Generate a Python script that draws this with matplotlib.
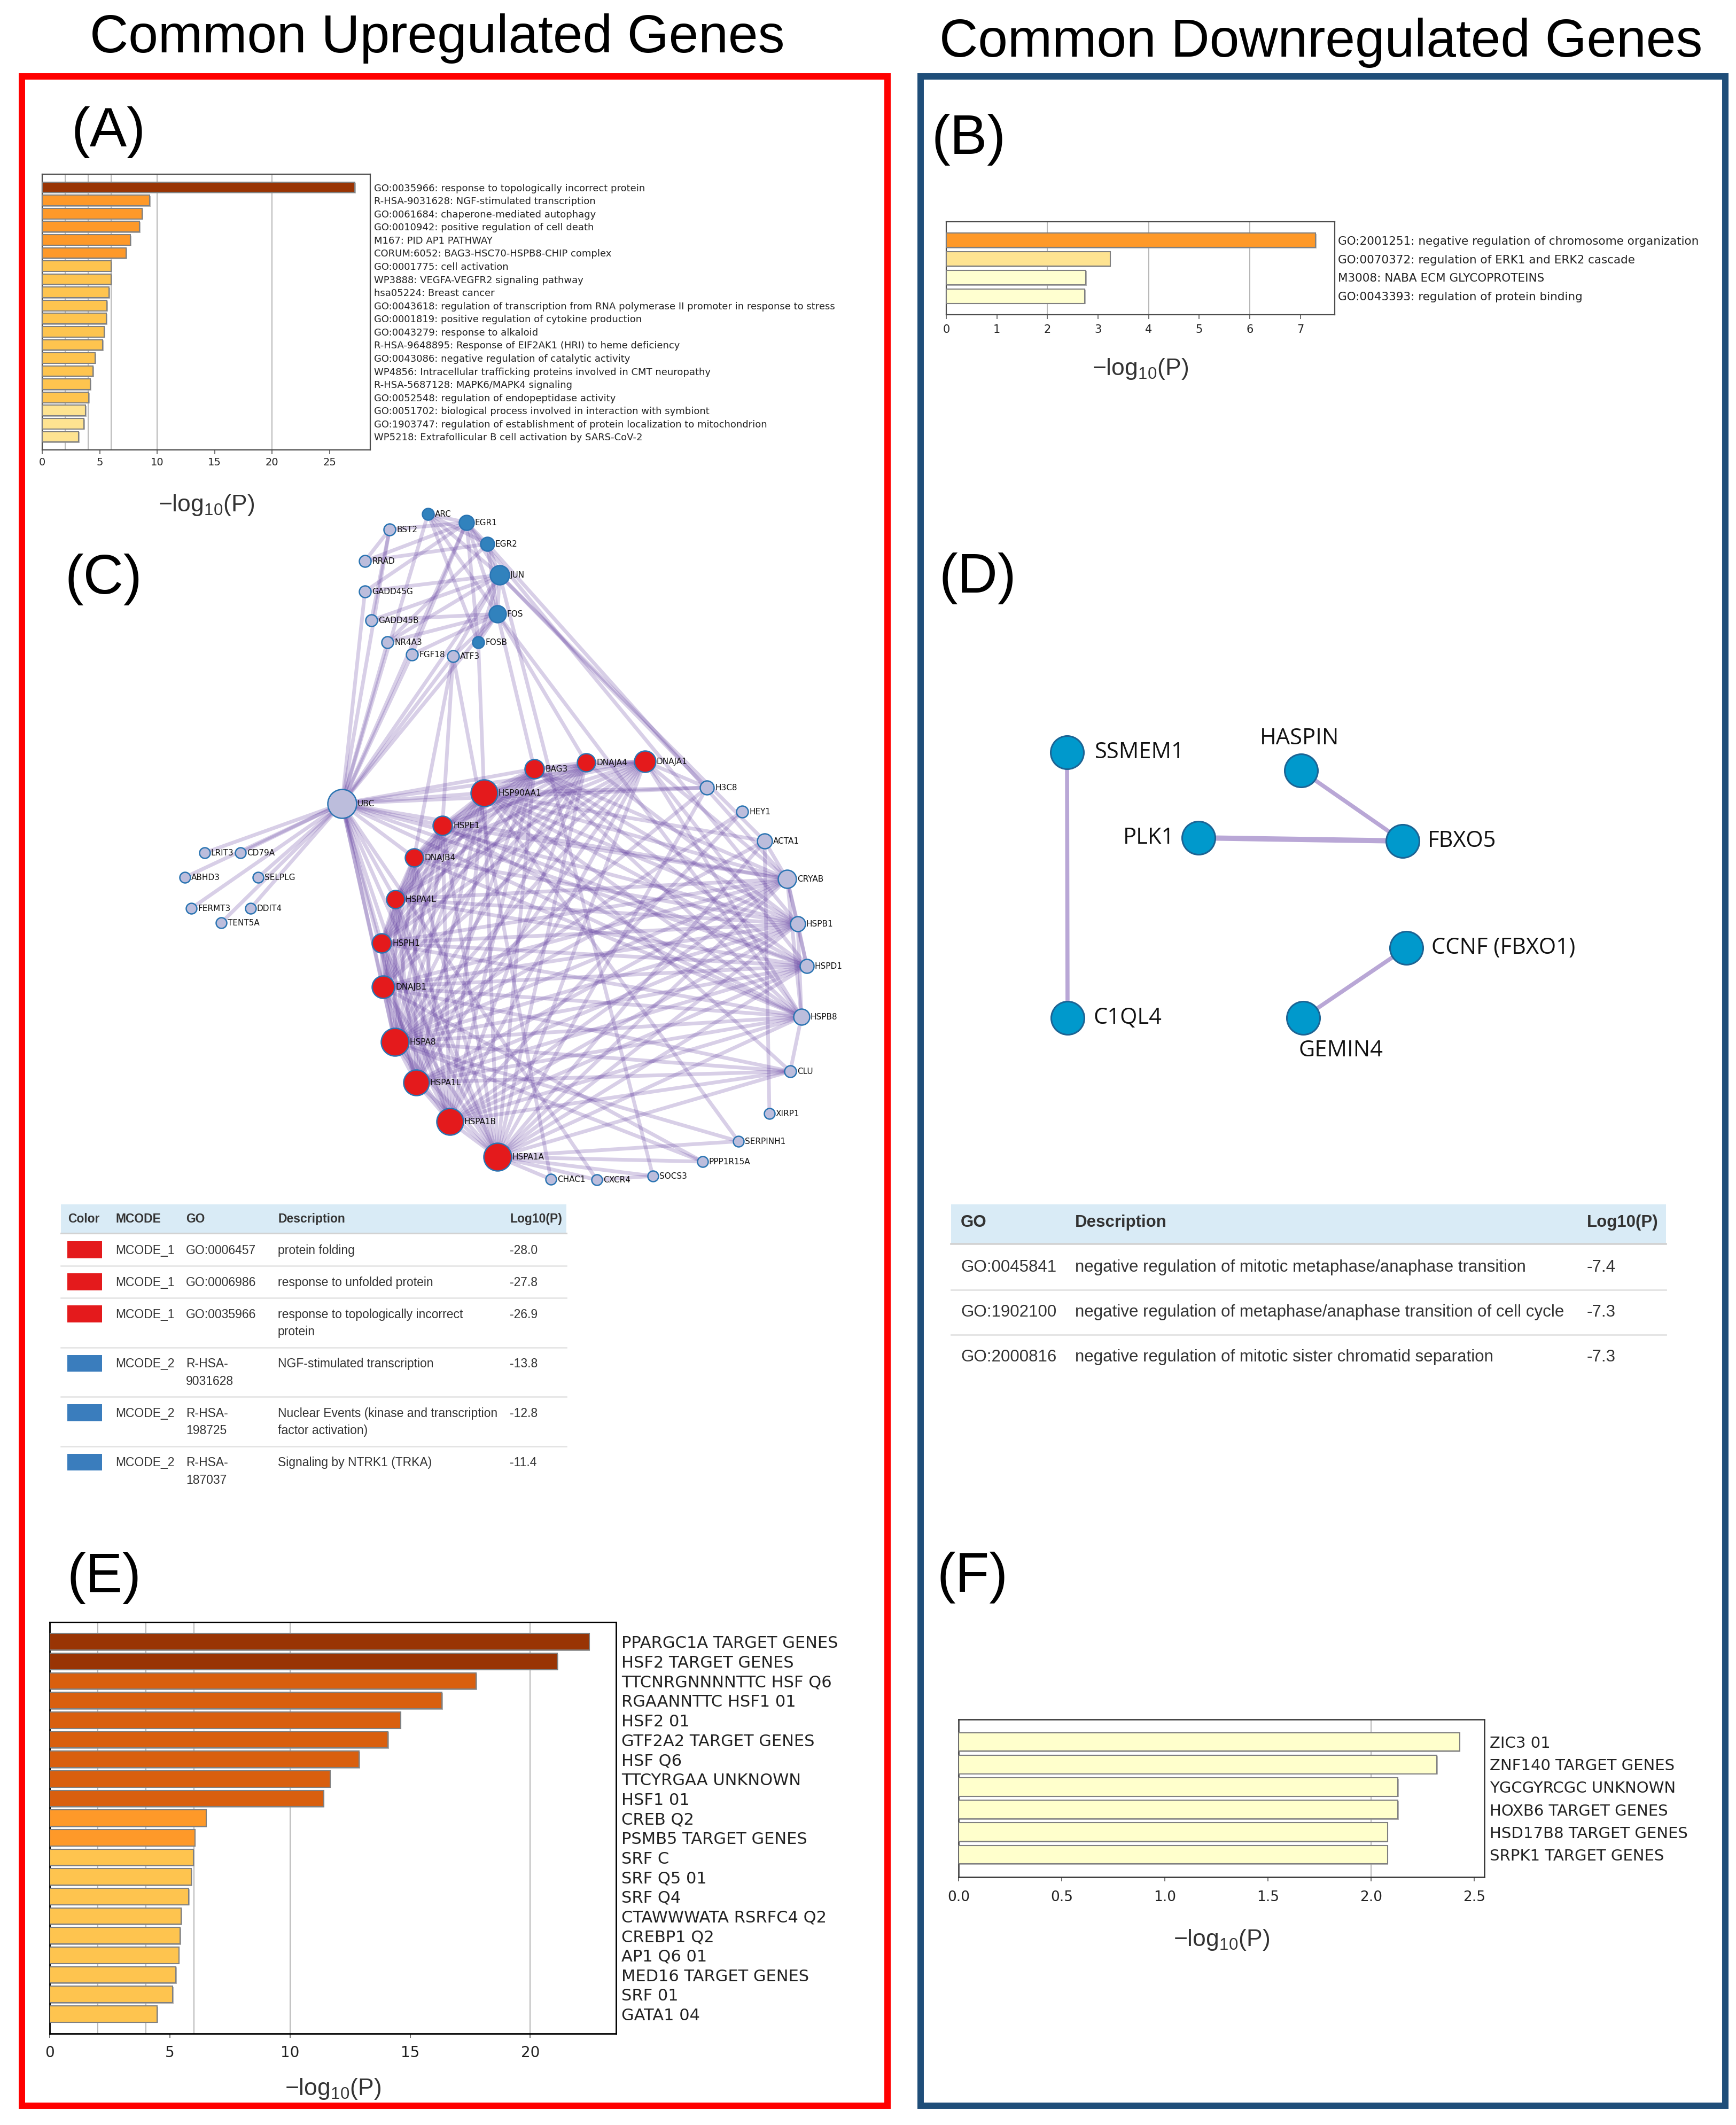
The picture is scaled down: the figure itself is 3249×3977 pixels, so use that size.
import numpy as np
import matplotlib
matplotlib.use('Agg')
import matplotlib.pyplot as plt
from matplotlib.patches import Rectangle
import matplotlib.patheffects as pe

plt.rcParams['mathtext.fontset'] = 'custom'
plt.rcParams['mathtext.rm'] = 'Liberation Sans'
plt.rcParams['mathtext.it'] = 'Liberation Sans:italic'

W, H = 3249, 3977

# ---------------- data ----------------
# (A) enrichment, common upregulated genes
a_terms = ['GO:0035966: response to topologically incorrect protein',
           'R-HSA-9031628: NGF-stimulated transcription',
           'GO:0061684: chaperone-mediated autophagy',
           'GO:0010942: positive regulation of cell death',
           'M167: PID AP1 PATHWAY',
           'CORUM:6052: BAG3-HSC70-HSPB8-CHIP complex',
           'GO:0001775: cell activation',
           'WP3888: VEGFA-VEGFR2 signaling pathway',
           'hsa05224: Breast cancer',
           'GO:0043618: regulation of transcription from RNA polymerase II promoter in response to stress',
           'GO:0001819: positive regulation of cytokine production',
           'GO:0043279: response to alkaloid',
           'R-HSA-9648895: Response of EIF2AK1 (HRI) to heme deficiency',
           'GO:0043086: negative regulation of catalytic activity',
           'WP4856: Intracellular trafficking proteins involved in CMT neuropathy',
           'R-HSA-5687128: MAPK6/MAPK4 signaling',
           'GO:0052548: regulation of endopeptidase activity',
           'GO:0051702: biological process involved in interaction with symbiont',
           'GO:1903747: regulation of establishment of protein localization to mitochondrion',
           'WP5218: Extrafollicular B cell activation by SARS-CoV-2']
a_vals = [27.2, 9.35, 8.7, 8.47, 7.67, 7.3, 6.0, 6.0, 5.81, 5.63,
          5.58, 5.4, 5.26, 4.6, 4.42, 4.19, 4.05, 3.77, 3.63, 3.16]
a_colors = ['#993404'] + ['#fe9929'] * 5 + ['#fec44f'] * 11 + ['#fee391'] * 3

# (B) enrichment, common downregulated genes
b_terms = ['GO:2001251: negative regulation of chromosome organization',
           'GO:0070372: regulation of ERK1 and ERK2 cascade',
           'M3008: NABA ECM GLYCOPROTEINS',
           'GO:0043393: regulation of protein binding']
b_vals = [7.30, 3.24, 2.76, 2.74]
b_colors = ['#fe9929', '#fee391', '#ffffd0', '#ffffd0']

# (E) transcription factor targets, upregulated
e_terms = ['PPARGC1A TARGET GENES', 'HSF2 TARGET GENES', 'TTCNRGNNNNTTC HSF Q6',
           'RGAANNTTC HSF1 01', 'HSF2 01', 'GTF2A2 TARGET GENES', 'HSF Q6',
           'TTCYRGAA UNKNOWN', 'HSF1 01', 'CREB Q2', 'PSMB5 TARGET GENES', 'SRF C',
           'SRF Q5 01', 'SRF Q4', 'CTAWWWATA RSRFC4 Q2', 'CREBP1 Q2', 'AP1 Q6 01',
           'MED16 TARGET GENES', 'SRF 01', 'GATA1 04']
e_vals = [22.45, 21.13, 17.75, 16.32, 14.60, 14.08, 12.88, 11.67, 11.40, 6.51,
          6.04, 5.99, 5.90, 5.79, 5.48, 5.43, 5.37, 5.25, 5.12, 4.47]
e_colors = ['#993404'] * 2 + ['#d95f0e'] * 7 + ['#fe9929'] * 2 + ['#fec44f'] * 9

# (F) transcription factor targets, downregulated
f_terms = ['ZIC3 01', 'ZNF140 TARGET GENES', 'YGCGYRCGC UNKNOWN',
           'HOXB6 TARGET GENES', 'HSD17B8 TARGET GENES', 'SRPK1 TARGET GENES']
f_vals = [2.43, 2.32, 2.13, 2.13, 2.08, 2.08]
f_colors = ['#ffffcc'] * 6

# (C) PPI network: name, layout x, layout y, node radius, group
c_nodes = [
    ('ARC', 501, 62, 11, 'b'), ('EGR1', 573, 78, 14, 'b'), ('BST2', 429, 91, 11, 'l'),
    ('EGR2', 612, 118, 13, 'b'), ('RRAD', 383, 150, 11, 'l'), ('JUN', 635, 176, 18, 'b'),
    ('GADD45G', 383, 207, 11, 'l'), ('FOS', 631, 249, 16, 'b'), ('GADD45B', 395, 261, 11, 'l'),
    ('FOSB', 595, 302, 11, 'b'), ('NR4A3', 425, 302, 11, 'l'), ('FGF18', 471, 325, 11, 'l'),
    ('ATF3', 548, 328, 11, 'l'), ('BAG3', 700, 539, 18, 'r'), ('DNAJA4', 797, 527, 17, 'r'),
    ('DNAJA1', 907, 525, 20, 'r'), ('H3C8', 1023, 574, 13, 'l'), ('HSP90AA1', 606, 584, 25, 'r'),
    ('UBC', 340, 604, 27, 'l'), ('HEY1', 1089, 619, 11, 'l'), ('HSPE1', 528, 645, 18, 'r'),
    ('ACTA1', 1131, 674, 14, 'l'), ('LRIT3', 83, 696, 10, 'l'), ('CD79A', 150, 696, 10, 'l'),
    ('DNAJB4', 475, 705, 17, 'r'), ('ABHD3', 46, 742, 10, 'l'), ('SELPLG', 183, 742, 10, 'l'),
    ('CRYAB', 1173, 745, 17, 'l'), ('HSPA4L', 440, 783, 17, 'r'), ('FERMT3', 58, 800, 10, 'l'),
    ('DDIT4', 169, 800, 10, 'l'), ('TENT5A', 114, 827, 10, 'l'), ('HSPB1', 1193, 829, 14, 'l'),
    ('HSPH1', 414, 865, 18, 'r'), ('HSPD1', 1210, 908, 13, 'l'), ('DNAJB1', 417, 947, 21, 'r'),
    ('HSPB8', 1200, 1003, 15, 'l'), ('HSPA8', 439, 1050, 26, 'r'), ('CLU', 1179, 1105, 11, 'l'),
    ('HSPA1L', 479, 1126, 24, 'r'), ('XIRP1', 1140, 1184, 10, 'l'), ('HSPA1B', 542, 1199, 25, 'r'),
    ('SERPINH1', 1082, 1236, 10, 'l'), ('HSPA1A', 631, 1265, 26, 'r'), ('PPP1R15A', 1015, 1274, 10, 'l'),
    ('SOCS3', 922, 1301, 10, 'l'), ('CHAC1', 731, 1307, 10, 'l'), ('CXCR4', 817, 1308, 10, 'l'),
]
# adjacency: first name on each line links to every following name
c_links = """
ARC EGR1 EGR2 JUN FOS FOSB UBC
EGR1 BST2 EGR2 JUN FOS FOSB GADD45G FGF18 RRAD HSPB1 UBC
EGR2 RRAD JUN FOS NR4A3 CRYAB
JUN FOS FOSB ATF3 GADD45G GADD45B NR4A3 H3C8 ACTA1 UBC SOCS3
FOS FOSB ATF3 NR4A3 GADD45B FGF18 BAG3 DNAJA4 UBC HSPB8
FOSB HSP90AA1
BST2 GADD45B RRAD UBC
ATF3 HSPE1 DNAJB4 UBC CHAC1
GADD45G UBC
NR4A3 UBC
FGF18 UBC
UBC LRIT3 CD79A ABHD3 SELPLG FERMT3 DDIT4 TENT5A HSP90AA1 HSPE1 DNAJB4 HSPA4L HSPH1 DNAJB1 HSPA8 HSPA1L HSPA1B HSPA1A BAG3 DNAJA1 CRYAB HSPB1 HSPD1 HSPB8 CXCR4 H3C8
BAG3 DNAJA4 DNAJA1 HSP90AA1 HSPE1 DNAJB4 HSPA4L HSPH1 DNAJB1 HSPA8 HSPA1L HSPA1B HSPA1A CRYAB HSPB1 HSPB8 HSPD1
DNAJA4 DNAJA1 HSP90AA1 HSPE1 DNAJB4 HSPA4L HSPH1 DNAJB1 HSPA8 HSPA1L HSPA1B HSPA1A HSPB1
DNAJA1 HSP90AA1 HSPE1 DNAJB4 HSPA4L HSPH1 DNAJB1 HSPA8 HSPA1L HSPA1B HSPA1A HSPD1 H3C8 CRYAB HSPB8
HSP90AA1 HSPE1 DNAJB4 HSPA4L HSPH1 DNAJB1 HSPA8 HSPA1L HSPA1B HSPA1A CRYAB HSPB1 HSPD1 H3C8 SERPINH1 ACTA1 HSPB8 CLU
HSPE1 DNAJB4 HSPA4L HSPH1 DNAJB1 HSPA8 HSPA1L HSPA1B HSPA1A HSPD1 HSPB8 CRYAB
DNAJB4 HSPA4L HSPH1 DNAJB1 HSPA8 HSPA1L HSPA1B HSPA1A HSPB8 HSPB1
HSPA4L HSPH1 DNAJB1 HSPA8 HSPA1L HSPA1B HSPA1A HSPB1 HSPD1 CRYAB
HSPH1 DNAJB1 HSPA8 HSPA1L HSPA1B HSPA1A HSPD1 HSPB8 CRYAB HSPB1
DNAJB1 HSPA8 HSPA1L HSPA1B HSPA1A HSPB1 HSPB8 HSPD1 CRYAB CLU PPP1R15A
HSPA8 HSPA1L HSPA1B HSPA1A CRYAB HSPB1 HSPB8 HSPD1 CLU ACTA1 SERPINH1 PPP1R15A H3C8 HEY1
HSPA1L HSPA1B HSPA1A HSPB8 CLU CRYAB HSPB1 HSPD1
HSPA1B HSPA1A CRYAB HSPB1 HSPD1 HSPB8 HEY1 CLU
HSPA1A CRYAB HSPB1 HSPD1 HSPB8 CLU ACTA1 H3C8 SERPINH1 PPP1R15A SOCS3 CXCR4 CHAC1
CRYAB HSPB1 HSPB8 HSPD1 ACTA1
HSPB1 HSPB8 HSPD1
HSPB8 CLU
ACTA1 XIRP1
CXCR4 SOCS3
"""

# (C) MCODE table
t1_colors = ['#e41a1c', '#e41a1c', '#e41a1c', '#3a7dbd', '#3a7dbd', '#3a7dbd']
t1_mcode = ['MCODE_1', 'MCODE_1', 'MCODE_1', 'MCODE_2', 'MCODE_2', 'MCODE_2']
t1_go = ['GO:0006457', 'GO:0006986', 'GO:0035966', 'R-HSA-\n9031628', 'R-HSA-\n198725', 'R-HSA-\n187037']
t1_desc = ['protein folding', 'response to unfolded protein',
           'response to topologically incorrect\nprotein', 'NGF-stimulated transcription',
           'Nuclear Events (kinase and transcription\nfactor activation)', 'Signaling by NTRK1 (TRKA)']
t1_logp = [-28.0, -27.8, -26.9, -13.8, -12.8, -11.4]

# (D) network of downregulated genes
d_nodes = [('SSMEM1', 97, 78), ('HASPIN', 535, 112), ('PLK1', 343, 238), ('FBXO5', 725, 244),
           ('CCNF (FBXO1)', 732, 444), ('C1QL4', 98, 575), ('GEMIN4', 539, 575)]
d_links = [('SSMEM1', 'C1QL4', 1.0), ('HASPIN', 'FBXO5', 1.0),
           ('PLK1', 'FBXO5', 1.3), ('CCNF (FBXO1)', 'GEMIN4', 1.0)]

t2_go = ['GO:0045841', 'GO:1902100', 'GO:2000816']
t2_desc = ['negative regulation of mitotic metaphase/anaphase transition',
           'negative regulation of metaphase/anaphase transition of cell cycle',
           'negative regulation of mitotic sister chromatid separation']
t2_logp = [-7.4, -7.3, -7.3]

# ---------------- figure ----------------
fig = plt.figure(figsize=(W / 100, H / 100), dpi=100)


def px_rect(x0, y0, x1, y1):
    return [x0 / W, 1 - y1 / H, (x1 - x0) / W, (y1 - y0) / H]


bg = fig.add_axes([0, 0, 1, 1])
bg.set_xlim(0, W)
bg.set_ylim(H, 0)
bg.axis('off')

# outer boxes
bg.add_patch(Rectangle((41, 143), 1620, 3798, fill=False, ec='#ff0000', lw=8.6))
bg.add_patch(Rectangle((1723, 143), 1506, 3798, fill=False, ec='#1f4e79', lw=8.6))

bg.text(818, 98, 'Common Upregulated Genes', ha='center', va='baseline',
        fontsize=72, family='Liberation Sans')
bg.text(2472, 106, 'Common Downregulated Genes', ha='center', va='baseline',
        fontsize=72, family='Liberation Sans')

for lab, x, y in [('(A)', 133, 247), ('(B)', 1744, 262), ('(C)', 122, 1084),
                  ('(D)', 1757, 1082), ('(E)', 125, 2953), ('(F)', 1754, 2952)]:
    bg.text(x, y, lab, ha='left', va='center', fontsize=75, family='Liberation Sans')

XLAB = r'$\mathrm{-log_{10}(P)}$'


def bar_panel(box, terms, vals, colors, xmax, ticks, grids, lab_fs, tick_fs,
              tick_pad, lab_pad, bar_h, frame, frame_lw, xlab_y, fmt=None):
    ax = fig.add_axes(px_rect(*box))
    n = len(vals)
    y = np.arange(n)
    ax.barh(y, vals, height=bar_h, color=colors, edgecolor='#808080', linewidth=1.5, zorder=3,
            path_effects=[pe.SimplePatchShadow(offset=(1.2, -1.2), shadow_rgbFace='#999999', alpha=0.7),
                          pe.Normal()])
    ax.set_xlim(0, xmax)
    ax.set_ylim(n, -1)
    for g in grids:
        ax.axvline(g, color='#b0b0b0', lw=1.3, zorder=1)
    ax.set_yticks(y)
    ax.set_yticklabels(terms, fontsize=lab_fs, family='DejaVu Sans', color='#222222')
    ax.yaxis.tick_right()
    ax.tick_params(axis='y', length=0, pad=lab_pad)
    ax.set_xticks(ticks)
    if fmt:
        ax.set_xticklabels([fmt.format(t) for t in ticks])
    ax.tick_params(axis='x', labelsize=tick_fs, length=6, width=1.2, color='#555555',
                   pad=tick_pad, labelcolor='#222222')
    for s in ax.spines.values():
        s.set_color(frame)
        s.set_linewidth(frame_lw)
    ax.text(0.5, xlab_y, XLAB, transform=ax.transAxes, ha='center', va='center',
            fontsize=32, color='#333333')
    return ax


bar_panel((79, 326, 693, 842), a_terms, a_vals, a_colors, 28.55, [0, 5, 10, 15, 20, 25],
          [2, 4, 6, 10, 20], 13, 14, 4, 5, 0.8, '#4d4d4d', 1.6, -0.20)
bar_panel((1771, 415, 2498, 589), b_terms, b_vals, b_colors, 7.68, list(range(8)),
          [2, 4, 6], 15.5, 15, 7, 4, 0.78, '#4d4d4d', 1.6, -0.586)
bar_panel((93, 3036, 1153, 3806), e_terms, e_vals, e_colors, 23.57, [0, 5, 10, 15, 20],
          [2, 4, 6, 10, 20], 22, 20, 10, 7, 0.83, 'black', 2.0, -0.135)
bar_panel((1794, 3218, 2778, 3513), f_terms, f_vals, f_colors, 2.55,
          [0, 0.5, 1.0, 1.5, 2.0, 2.5], [2], 21, 19, 12, 7, 0.82, '#333333', 1.8, -0.397,
          fmt='{:.1f}')

# ---------------- (C) network ----------------
axc = fig.add_axes(px_rect(300, 900, 1620, 2260))
axc.set_xlim(0, 1320)
axc.set_ylim(1360, 0)
axc.axis('off')
axc.patch.set_alpha(0)
pos = {n: (x, y) for n, x, y, r, g in c_nodes}
edges = set()
for line in c_links.strip().splitlines():
    toks = line.split()
    for t in toks[1:]:
        edges.add(tuple(sorted((toks[0], t))))
for a, b in sorted(edges):
    (x1, y1), (x2, y2) = pos[a], pos[b]
    axc.plot([x1, x2], [y1, y2], color='#5e3a9e', alpha=0.24, lw=5, solid_capstyle='round', zorder=1)

fills = {'r': '#e41a1c', 'b': '#3182bd', 'l': '#bcbddc'}
for n, x, y, r, g in c_nodes:
    axc.scatter([x], [y], s=(2 * r * 0.72) ** 2, color=fills[g], edgecolor='#2a74b2',
                linewidth=1.8, zorder=3)
    axc.text(x + r + 2, y, n, ha='left', va='center', fontsize=11, color='#111111',
             family='DejaVu Sans', zorder=4)

# ---------------- (D) network ----------------
axd = fig.add_axes(px_rect(1900, 1330, 3200, 2010))
axd.set_xlim(0, 1300)
axd.set_ylim(680, 0)
axd.axis('off')
axd.patch.set_alpha(0)
dpos = {n: (x, y) for n, x, y in d_nodes}
for a, b, w in d_links:
    (x1, y1), (x2, y2) = dpos[a], dpos[b]
    axd.plot([x1, x2], [y1, y2], color='#b9a7d6', lw=5.5 * w, zorder=1)
d_lab_style = {'SSMEM1': (37, 0, 'left'), 'HASPIN': (-2, 43, 'center'), 'PLK1': (-32, 0, 'right'),
               'FBXO5': (34, 0, 'left'), 'CCNF (FBXO1)': (34, 0, 'left'), 'C1QL4': (35, 0, 'left'),
               'GEMIN4': (51, -44, 'center')}
for n, x, y in d_nodes:
    axd.scatter([x], [y], s=(62 * 0.72) ** 2, color='#0099cc', edgecolor='#1c6494', linewidth=2.2, zorder=3)
    dx, dy, ha = d_lab_style[n]
    axd.annotate(n, (x, y), xytext=(dx, dy), textcoords='offset points', ha=ha, va='center',
                 fontsize=30, family='Open Sans', color='#111111')

# ---------------- tables ----------------
TXT = '#333333'
TF = 'Liberation Sans'

# table under (C)
bg.add_patch(Rectangle((114, 2254), 946, 54, fc='#d9ebf6', ec='none'))
bg.plot([114, 1060], [2308, 2308], color='#d2d2d2', lw=2.2)
for lab, x in [('Color', 127), ('MCODE', 216), ('GO', 348), ('Description', 520), ('Log10(P)', 954)]:
    bg.text(x, 2281, lab, ha='left', va='center', fontsize=16.5, fontweight='bold', color=TXT, family=TF)
top = 2309
for i in range(len(t1_mcode)):
    nl = max(t1_go[i].count('\n'), t1_desc[i].count('\n')) + 1
    bg.add_patch(Rectangle((126, top + 14), 64.6, 31.5, fc=t1_colors[i], ec='none'))
    cells = [(t1_mcode[i], 216), (t1_go[i], 348), (t1_desc[i], 520), ('%.1f' % t1_logp[i], 954)]
    for txt, x in cells:
        for k, part in enumerate(txt.split('\n')):
            bg.text(x, top + 31 + 32.5 * k, part, ha='left', va='center', fontsize=16.5,
                    color=TXT, family=TF)
    row_h = 27.5 + 32.5 * nl
    if i < len(t1_mcode) - 1:
        bg.plot([114, 1060], [top + row_h, top + row_h], color='#e2e2e2', lw=1.8)
    top += row_h

# table under (D)
bg.add_patch(Rectangle((1780, 2254), 1338, 74, fc='#d9ebf6', ec='none'))
bg.plot([1780, 3118], [2328, 2328], color='#d2d2d2', lw=2.6)
for lab, x in [('GO', 1798), ('Description', 2012), ('Log10(P)', 2970)]:
    bg.text(x, 2288, lab, ha='left', va='center', fontsize=22.5, fontweight='bold', color=TXT, family=TF)
top = 2330
for i in range(len(t2_go)):
    for txt, x in [(t2_go[i], 1798), (t2_desc[i], 2012), ('%.1f' % t2_logp[i], 2970)]:
        bg.text(x, top + 42, txt, ha='left', va='center', fontsize=22.5, color=TXT, family=TF)
    if i < len(t2_go) - 1:
        bg.plot([1780, 3118], [top + 84, top + 84], color='#e2e2e2', lw=2.0)
    top += 84

fig.savefig('out.png', dpi=100, facecolor='white')
